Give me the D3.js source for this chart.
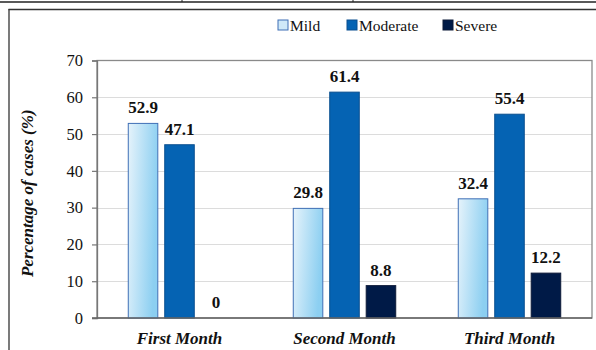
<!DOCTYPE html>
<html>
<head>
<meta charset="utf-8">
<script src="https://cdn.jsdelivr.net/npm/d3@7"></script>
<style>
  html, body { margin: 0; padding: 0; background: #fff; }
  svg { display: block; }
</style>
</head>
<body>
<svg id="chart" width="596" height="350"></svg>
<script>
// Share of cases by severity across the three follow-up months
const categories = ["First Month", "Second Month", "Third Month"];
const seriesNames = ["Mild", "Moderate", "Severe"];
const mild = [52.9, 29.8, 32.4];
const moderate = [47.1, 61.4, 55.4];
const severe = [0, 8.8, 12.2];
const yTicks = [0, 10, 20, 30, 40, 50, 60, 70];
const yTitle = "Percentage of cases (%)";

const seriesValues = [mild, moderate, severe];
const fills = ["url(#mildGrad)", "#0563b3", "#001a47"];
const strokes = ["#3f6fb5", "#0a4f8f", "#0d1a38"];

const FONT = '"Liberation Serif", Tinos';
const svg = d3.select("#chart");

// gradient for the light series
const defs = svg.append("defs");
const g = defs.append("linearGradient").attr("id", "mildGrad")
  .attr("x1", 0).attr("y1", 0).attr("x2", 1).attr("y2", 0.25);
g.append("stop").attr("offset", "0%").attr("stop-color", "#e6f3fb");
g.append("stop").attr("offset", "100%").attr("stop-color", "#8ccff1");

// frame lines around the figure (table rule above, cell box around the chart)
svg.append("line").attr("x1", 0).attr("x2", 596).attr("y1", 2).attr("y2", 2)
  .attr("stroke", "#222").attr("stroke-width", 1.6);
[182, 353].forEach(xx => {
  svg.append("line").attr("x1", xx).attr("x2", xx).attr("y1", 0).attr("y2", 2)
    .attr("stroke", "#222").attr("stroke-width", 1);
});
svg.append("line").attr("x1", 8.5).attr("x2", 596).attr("y1", 9.5).attr("y2", 9.5)
  .attr("stroke", "#333").attr("stroke-width", 1.3);
svg.append("line").attr("x1", 9).attr("x2", 9).attr("y1", 9).attr("y2", 350)
  .attr("stroke", "#333").attr("stroke-width", 1.3);

const plot = { left: 97, right: 592, top: 60.5, bottom: 318 };

const x = d3.scaleBand().domain(categories).range([plot.left, plot.right]);
const y = d3.scaleLinear().domain([0, 70]).range([plot.bottom, plot.top]);
const bw = x.bandwidth();
const barW = bw * 0.179;
const step = bw * 0.221;

// gridlines
svg.append("g").selectAll("line").data(yTicks.filter(t => t > 0 && t < 70)).join("line")
  .attr("x1", plot.left).attr("x2", plot.right)
  .attr("y1", d => Math.round(y(d)) + 0.5).attr("y2", d => Math.round(y(d)) + 0.5)
  .attr("stroke", "#dcdcdc").attr("stroke-width", 1);

// plot area border
svg.append("rect").attr("x", plot.left).attr("y", plot.top)
  .attr("width", plot.right - plot.left).attr("height", plot.bottom - plot.top)
  .attr("fill", "none").attr("stroke", "#8a8a8a").attr("stroke-width", 1.3);

// y axis
const yAxis = svg.append("g").attr("transform", `translate(${plot.left},0)`)
  .call(d3.axisLeft(y).tickValues(yTicks).tickSize(5).tickPadding(9).tickFormat(d3.format("d")));
yAxis.select(".domain").attr("stroke", "#777").attr("stroke-width", 1.3);
yAxis.selectAll(".tick line").attr("stroke", "#777").attr("stroke-width", 1.2);
yAxis.selectAll(".tick text")
  .style("font-family", FONT).style("font-size", "16.5px").attr("fill", "#111");

// bars
seriesValues.forEach((vals, si) => {
  svg.append("g").selectAll("rect").data(categories).join("rect")
    .attr("x", (c) => x(c) + bw / 2 + (si - 1) * step - barW / 2)
    .attr("y", (c, i) => y(vals[i]))
    .attr("width", barW)
    .attr("height", (c, i) => y(0) - y(vals[i]))
    .attr("fill", fills[si])
    .attr("stroke", (c, i) => vals[i] > 0 ? strokes[si] : "none")
    .attr("stroke-width", 1);

  svg.append("g").selectAll("text").data(categories).join("text")
    .attr("x", (c) => x(c) + bw / 2 + (si - 1) * step)
    .attr("y", (c, i) => y(vals[i]) - 10)
    .attr("text-anchor", "middle")
    .style("font-family", FONT).style("font-weight", "bold").style("font-size", "17px")
    .attr("fill", "#111")
    .text((c, i) => vals[i]);
});

// bottom axis line
svg.append("line").attr("x1", plot.left - 5).attr("x2", plot.right)
  .attr("y1", plot.bottom).attr("y2", plot.bottom)
  .attr("stroke", "#666").attr("stroke-width", 1.3);

// category labels
svg.append("g").selectAll("text").data(categories).join("text")
  .attr("x", c => x(c) + bw / 2).attr("y", 344)
  .attr("text-anchor", "middle")
  .style("font-family", FONT).style("font-weight", "bold").style("font-style", "italic")
  .style("font-size", "17px").attr("fill", "#111")
  .text(c => c);

// y title
svg.append("text")
  .attr("transform", `translate(33,${(plot.top + plot.bottom) / 2 + 4}) rotate(-90)`)
  .attr("text-anchor", "middle")
  .style("font-family", FONT).style("font-weight", "bold").style("font-style", "italic")
  .style("font-size", "17px").attr("fill", "#111")
  .text(yTitle);

// legend
const legendX = [278, 347, 443];
const legendFill = ["#cfe9f8", "#0563b3", "#001a47"];
const legend = svg.append("g");
seriesNames.forEach((name, i) => {
  legend.append("rect").attr("x", legendX[i]).attr("y", 20).attr("width", 10).attr("height", 10)
    .attr("fill", legendFill[i]).attr("stroke", strokes[i]).attr("stroke-width", 1);
  legend.append("text").attr("x", legendX[i] + 12).attr("y", 30.5)
    .style("font-family", FONT).style("font-size", "15.5px").attr("fill", "#111")
    .text(name);
});
</script>
</body>
</html>
